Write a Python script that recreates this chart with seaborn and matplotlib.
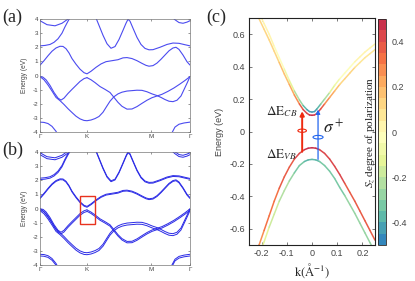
import numpy as np
import pandas as pd
import matplotlib
matplotlib.use("Agg")
import matplotlib.pyplot as plt
import seaborn as sns
from matplotlib.collections import LineCollection
from matplotlib.colors import ListedColormap, Normalize
from matplotlib.patches import Ellipse, Rectangle
import matplotlib.cm as cm

# ---------------- data: panels (a)/(b) band structure ----------------
kpath_ticks = [0, 47, 111, 150]
kpath_labels = ["Γ", "K", "M", "Γ"]

band_k = {
    "b1": [0, 7, 15, 22, 28, 31],
    "b2": [131, 135, 139, 143, 147, 150],
    "b3": [0, 5, 10, 14, 18, 22, 25, 28, 31],
    "b4": [55, 59, 63, 67, 71, 75, 79, 83, 86, 88, 90, 93, 97, 101, 105, 109, 113, 120, 127, 133, 139, 145, 150],
    "b5": [0, 4, 8, 12, 16, 20, 23, 26, 29, 32, 36, 40, 44, 47, 51, 56, 61, 66, 72, 78, 83, 87, 92, 97, 102, 106,
           109, 113, 117, 121, 125, 129, 133, 136, 139, 143, 147, 150],
    "vP": [0, 3, 6, 10, 14, 18, 21, 24, 28, 32, 36, 40, 44, 47],
    "vQ": [0, 4, 8, 12, 16, 20, 24, 28, 32, 36, 40, 44, 47, 51, 55, 59, 63, 67, 70, 74, 78, 82, 87, 92, 97, 102,
           107, 112, 117, 121, 125, 129, 133, 137, 141, 144, 147, 150],
    "vR": [47, 51, 55, 60, 65, 70, 74, 78, 82, 87, 92, 97, 102, 107, 112, 117, 122, 128, 134, 140, 145, 150],
    "s1": [0, 4, 8, 12, 16, 18],
    "s2": [130, 132, 135, 139, 144, 150],
}
band_E = {
    "b1": [3.88, 3.6, 3.52, 3.7, 4.0, 4.2],
    "b2": [4.2, 3.95, 3.75, 3.7, 3.78, 3.88],
    "b3": [2.1, 2.13, 2.2, 2.35, 2.6, 3.0, 3.45, 3.85, 4.2],
    "b4": [4.25, 3.55, 2.85, 2.25, 1.93, 2.05, 2.55, 3.2, 3.7, 3.98, 3.85, 3.35, 2.7, 2.2, 1.92, 1.82, 1.83, 2.0,
           2.2, 2.3, 2.28, 2.18, 2.1],
    "b5": [0.73, 1.05, 1.4, 1.72, 1.95, 2.07, 2.06, 1.9, 1.6, 1.2, 0.8, 0.45, 0.2, 0.12, 0.3, 0.58, 0.82, 0.98,
           1.05, 1.12, 1.25, 1.27, 1.2, 1.05, 0.86, 0.72, 0.66, 0.7, 0.88, 1.15, 1.45, 1.75, 1.95, 2.0, 1.85, 1.45,
           0.98, 0.74],
    "vP": [-0.08, -0.12, -0.3, -0.7, -1.2, -1.6, -1.74, -1.6, -1.27, -0.98, -0.7, -0.42, -0.22, -0.15],
    "vQ": [-0.08, -0.3, -0.67, -1.1, -1.55, -1.78, -2.05, -2.35, -2.62, -2.88, -3.07, -3.18, -3.2, -3.15, -3.05,
           -2.9, -2.6, -2.15, -1.82, -1.5, -1.3, -1.18, -1.1, -1.07, -1.04, -1.05, -1.15, -1.3, -1.42, -1.55, -1.7,
           -1.82, -1.85, -1.75, -1.45, -1.0, -0.55, -0.08],
    "vR": [-0.15, -0.3, -0.5, -0.78, -0.98, -1.2, -1.55, -1.9, -2.18, -2.38, -2.37, -2.2, -1.97, -1.75, -1.57,
           -1.45, -1.33, -1.12, -0.88, -0.6, -0.35, -0.08],
    "s1": [-3.3, -3.32, -3.4, -3.6, -3.95, -4.2],
    "s2": [-4.3, -4.05, -3.65, -3.45, -3.36, -3.3],
}
# spin-orbit splitting used for panel (b) (eV, half-splitting)
band_split_b = {"b1": 0.07, "b2": 0.07, "b3": 0.05, "b4": 0.03, "b5": 0.03,
                "vP": 0.06, "vQ": 0.07, "vR": 0.05, "s1": 0.06, "s2": 0.06}

# ---------------- data: panel (c) ----------------
kc_cb = [-0.21, -0.19, -0.17, -0.15, -0.13, -0.11, -0.09, -0.07, -0.05, -0.035, -0.02, -0.01, 0.0,
         0.01, 0.02, 0.035, 0.05, 0.07, 0.09, 0.11, 0.13, 0.15, 0.17, 0.19, 0.21, 0.23, 0.25]
E_cb_up = [0.73, 0.665, 0.60, 0.525, 0.455, 0.385, 0.315, 0.25, 0.195, 0.16, 0.135, 0.123, 0.12,
           0.123, 0.14, 0.17, 0.2, 0.24, 0.285, 0.325, 0.36, 0.395, 0.43, 0.46, 0.49, 0.515, 0.54]
Sz_cb_up = [0.03, 0.02, 0.01, 0.0, -0.02, -0.05, -0.1, -0.17, -0.26, -0.33, -0.4, -0.44, -0.45,
            -0.44, -0.4, -0.33, -0.25, -0.17, -0.1, -0.06, -0.03, -0.01, 0.0, 0.01, 0.02, 0.02, 0.02]
E_cb_lo = [0.695, 0.63, 0.565, 0.495, 0.425, 0.355, 0.29, 0.225, 0.17, 0.135, 0.112, 0.102, 0.10,
           0.102, 0.112, 0.14, 0.17, 0.21, 0.25, 0.29, 0.325, 0.36, 0.395, 0.425, 0.455, 0.48, 0.505]
Sz_cb_lo = [0.12, 0.12, 0.12, 0.13, 0.14, 0.16, 0.2, 0.26, 0.32, 0.38, 0.43, 0.45, 0.46,
            0.45, 0.43, 0.38, 0.32, 0.26, 0.2, 0.16, 0.13, 0.12, 0.1, 0.08, 0.07, 0.06, 0.05]

kc_vb = [-0.23, -0.21, -0.19, -0.17, -0.15, -0.13, -0.11, -0.09, -0.07, -0.05, -0.03, -0.015, 0.0,
         0.015, 0.03, 0.05, 0.07, 0.09, 0.11, 0.13, 0.15, 0.17, 0.19, 0.21, 0.23, 0.25]
E_vb_up = [-0.78, -0.70, -0.61, -0.52, -0.43, -0.35, -0.28, -0.22, -0.17, -0.135, -0.112, -0.103, -0.10,
           -0.103, -0.112, -0.135, -0.17, -0.215, -0.265, -0.32, -0.375, -0.43, -0.49, -0.55, -0.61, -0.67]
Sz_vb_up = [0.28, 0.29, 0.3, 0.31, 0.32, 0.34, 0.36, 0.38, 0.41, 0.43, 0.45, 0.46, 0.46,
            0.46, 0.45, 0.44, 0.43, 0.42, 0.41, 0.4, 0.39, 0.38, 0.37, 0.36, 0.35, 0.35]
E_vb_lo = [-0.84, -0.76, -0.68, -0.59, -0.51, -0.43, -0.365, -0.305, -0.255, -0.21, -0.185, -0.175, -0.172,
           -0.175, -0.185, -0.21, -0.245, -0.29, -0.345, -0.395, -0.45, -0.505, -0.565, -0.625, -0.685, -0.745]
Sz_vb_lo = [-0.12, -0.13, -0.14, -0.16, -0.18, -0.2, -0.23, -0.26, -0.3, -0.33, -0.35, -0.36, -0.36,
            -0.36, -0.35, -0.34, -0.33, -0.32, -0.31, -0.3, -0.3, -0.29, -0.28, -0.28, -0.27, -0.27]

cb_ticks = [0.4, 0.2, 0, -0.2, -0.4]
c_xticks = [-0.2, -0.1, 0, 0.1, 0.2]
c_yticks = [-0.6, -0.4, -0.2, 0, 0.2, 0.4, 0.6]

# ---------------- style ----------------
sns.set_theme(style="ticks")
plt.rcParams["font.family"] = ["Liberation Sans", "DejaVu Sans"]
plt.rcParams["mathtext.fontset"] = "stix"
plt.rcParams["axes.unicode_minus"] = False
SERIF = ["Liberation Serif", "DejaVu Serif"]

fig = plt.figure(figsize=(4.15, 2.81), dpi=100)
ax_a = fig.add_axes([0.0964, 0.5302, 0.3614, 0.4021])
ax_b = fig.add_axes([0.0964, 0.0569, 0.3614, 0.4021])
ax_c = fig.add_axes([0.600, 0.1281, 0.3036, 0.8078])
cax = fig.add_axes([0.9108, 0.1281, 0.0193, 0.8040])

rows_a, rows_b = [], []
for name in band_k:
    for k, e in zip(band_k[name], band_E[name]):
        rows_a.append({"band": name, "k": k, "E": e})
        s = band_split_b[name]
        rows_b.append({"band": name + "+", "k": k, "E": e + s})
        rows_b.append({"band": name + "-", "k": k, "E": e - s})
df_a = pd.DataFrame(rows_a)
df_b = pd.DataFrame(rows_b)

sns.lineplot(data=df_a, x="k", y="E", units="band", estimator=None, sort=False,
             color="#4b4bf0", lw=0.8, ax=ax_a)
sns.lineplot(data=df_b, x="k", y="E", units="band", estimator=None, sort=False,
             color="#2a2ae6", lw=0.7, ax=ax_b)

for ax in (ax_a, ax_b):
    ax.set_xlim(0, 150)
    ax.set_ylim(-4, 4)
    ax.set_xticks(kpath_ticks)
    ax.set_xticklabels(kpath_labels)
    ax.set_yticks(range(-4, 5))
    ax.tick_params(axis="both", direction="in", length=1.5, width=0.4, labelsize=4.5, pad=1.5,
                   colors="#444444", top=True, right=True)
    ax.set_xlabel("")
    ax.set_ylabel("Energy (eV)", fontsize=4.8, labelpad=3, color="#444444")
    for sp in ax.spines.values():
        sp.set_linewidth(0.5)
        sp.set_color("#777777")

ax_b.add_patch(Rectangle((40.3, -1.1), 15, 1.98, fill=False, edgecolor="#e8321e", lw=1.0, zorder=5))

fig.text(0.006, 0.94, "(a)", fontsize=13, family=SERIF, va="center")
fig.text(0.006, 0.465, "(b)", fontsize=13, family=SERIF, va="center")
fig.text(0.497, 0.94, "(c)", fontsize=13, family=SERIF, va="center")

# ---------------- panel (c) ----------------
base = plt.get_cmap("Spectral_r")
cmap = ListedColormap([base(v) for v in np.linspace(0.1, 0.92, 20)])
norm = Normalize(-0.5, 0.5)


def colored_band(ax, k, E, sz, lw=1.1):
    pts = np.column_stack([k, E])
    segs = np.stack([pts[:-1], pts[1:]], axis=1)
    vals = 0.5 * (np.asarray(sz[:-1]) + np.asarray(sz[1:]))
    lc = LineCollection(segs, cmap=cmap, norm=norm, linewidths=lw, capstyle="round")
    lc.set_array(vals)
    ax.add_collection(lc)


colored_band(ax_c, kc_cb, E_cb_up, Sz_cb_up)
colored_band(ax_c, kc_cb, E_cb_lo, Sz_cb_lo)
colored_band(ax_c, kc_vb, E_vb_up, Sz_vb_up)
colored_band(ax_c, kc_vb, E_vb_lo, Sz_vb_lo)

ax_c.set_xlim(-0.25, 0.25)
ax_c.set_ylim(-0.7, 0.7)
ax_c.set_xticks(c_xticks)
ax_c.set_xticklabels([f"{v:g}" for v in c_xticks])
ax_c.set_yticks(c_yticks)
ax_c.set_yticklabels([f"{v:g}" for v in c_yticks])
ax_c.tick_params(axis="both", direction="in", length=2, width=0.5, labelsize=6.5, pad=3,
                 colors="#444444", top=True, right=True)
ax_c.set_ylabel("Energy (eV)", fontsize=6.5, labelpad=4, color="#444444")
ax_c.set_xlabel(r"$\mathrm{k(Å^{-1})}$", fontsize=9, labelpad=2)
for sp in ax_c.spines.values():
    sp.set_linewidth(0.8)
    sp.set_color("#222222")

# arrows and ellipses
ax_c.annotate("", xy=(-0.039, 0.125), xytext=(-0.039, -0.125),
              arrowprops=dict(arrowstyle="-|>", color="#ee2a10", lw=1.4, mutation_scale=6,
                              shrinkA=0, shrinkB=0))
ax_c.annotate("", xy=(0.024, 0.135), xytext=(0.024, -0.172),
              arrowprops=dict(arrowstyle="-|>", color="#2266ee", lw=0.9, mutation_scale=6,
                              shrinkA=0, shrinkB=0))
ax_c.add_patch(Ellipse((-0.039, 0.005), 0.034, 0.02, fill=False, edgecolor="#ee2a10", lw=0.8))
ax_c.add_patch(Ellipse((0.024, -0.035), 0.04, 0.022, fill=False, edgecolor="#2266ee", lw=0.8))
ax_c.text(-0.058, 0.12, r"$\Delta\mathrm{E}_{CB}$", fontsize=9.5, ha="right", va="center")
ax_c.text(-0.058, -0.14, r"$\Delta\mathrm{E}_{VB}$", fontsize=9.5, ha="right", va="center")
ax_c.text(0.043, 0.03, r"$\sigma^+$", fontsize=12.5, ha="left", va="center")

sm = cm.ScalarMappable(cmap=cmap, norm=norm)
cb = fig.colorbar(sm, cax=cax, ticks=cb_ticks)
cb.ax.set_yticklabels([f"{v:g}" for v in cb_ticks])
cb.ax.tick_params(direction="in", length=2, width=0.4, labelsize=6.5, colors="#444444", pad=4)
cb.outline.set_linewidth(0.6)
cb.ax.yaxis.set_label_position("left")
cb.set_label(r"$S_z$ degree of polarization", fontsize=8, family=SERIF, labelpad=1)

fig.savefig("out.png", dpi=100)
